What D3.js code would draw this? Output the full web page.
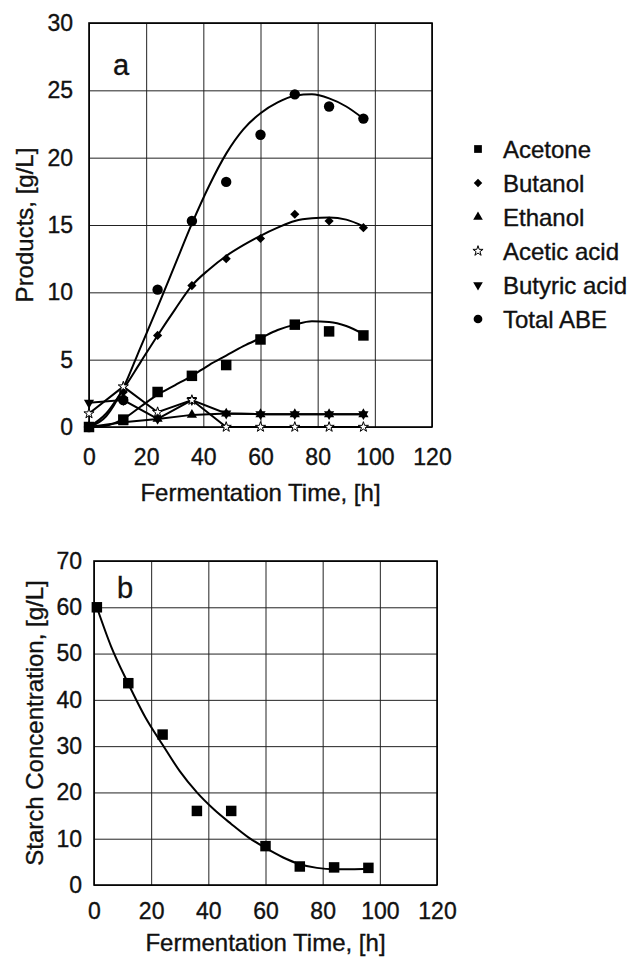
<!DOCTYPE html>
<html>
<head>
<meta charset="utf-8">
<style>
body{margin:0;background:#fff;}
svg{display:block;font-family:"Liberation Sans",Arial,sans-serif;}
svg text{stroke:#111;stroke-width:0.35px;}
.grid line{stroke:#222;stroke-width:1;}
.grid path{display:none;}
.grid text{font-size:23px;fill:#111;}
</style>
</head>
<body>
<svg id="chart" width="633" height="957"></svg>
<script src="https://cdn.jsdelivr.net/npm/d3@7"></script>
<script>
// panel a: measured products
const hours = [0, 12, 24, 36, 48, 60, 72, 84, 96];
const acetone = [0, 0.55, 2.6, 3.8, 4.6, 6.5, 7.6, 7.1, 6.8];
const butanol = [0, 2.6, 6.8, 10.5, 12.5, 14.0, 15.8, 15.3, 14.8];
const ethanol = [0, 0.35, 0.6, 0.9, 1.0, 0.95, 0.95, 0.95, 0.95];
const aceticAcid = [1.0, 3.0, 1.1, 2.0, 0, 0, 0, 0, 0];
const butyricAcid = [1.8, 2.0, 0.6, 2.0, 1.0, 0.95, 0.95, 0.95, 0.95];
const totalABE = [0, 2.0, 10.2, 15.3, 18.2, 21.7, 24.7, 23.8, 22.9];

// panel a: trend lines
const fitHours = [0, 6, 12, 18, 24, 30, 36, 42, 48, 54, 60, 66, 72, 78, 84, 90, 96];
const acetoneFit = [0, 0.1, 0.6, 1.5, 2.4, 3.1, 3.8, 4.6, 5.3, 6.0, 6.6, 7.2, 7.6, 7.85, 7.8, 7.5, 6.9];
const butanolFit = [0, 1.0, 2.8, 4.8, 6.8, 8.7, 10.5, 11.7, 12.7, 13.5, 14.2, 14.8, 15.3, 15.5, 15.55, 15.4, 14.9];
const abeFit = [0, 0.8, 2.9, 5.9, 8.9, 12.0, 15.1, 17.9, 20.3, 22.1, 23.3, 24.1, 24.6, 24.7, 24.4, 23.8, 22.9];

// panel b: starch
const starchHours = [1, 12, 24, 36, 48, 60, 72, 84, 96];
const starch = [60, 43.6, 32.5, 16, 16, 8.4, 4, 3.8, 3.7];
const starchFitHours = [1, 6, 12, 18, 24, 30, 36, 42, 48, 54, 60, 66, 72, 78, 84, 90, 96];
const starchFit = [60, 51.5, 43.5, 36.2, 30.3, 24.6, 20, 16.3, 13.2, 10.3, 8, 6, 4.5, 3.7, 3.4, 3.4, 3.5];

const xTicks = [0, 20, 40, 60, 80, 100, 120];
const yTicksA = [0, 5, 10, 15, 20, 25, 30];
const yTicksB = [0, 10, 20, 30, 40, 50, 60, 70];

const legendNames = ["Acetone", "Butanol", "Ethanol", "Acetic acid", "Butyric acid", "Total ABE"];

const svg = d3.select("#chart");

function panel(box, yMax, yTicks, opts){
  const x = d3.scaleLinear().domain([0, 120]).range([box.left, box.right]);
  const y = d3.scaleLinear().domain([0, yMax]).range([box.bottom, box.top]);
  const w = box.right - box.left, h = box.bottom - box.top;

  svg.append("g").attr("class", "grid")
    .attr("transform", `translate(0,${box.bottom})`)
    .call(d3.axisBottom(x).tickValues(xTicks).tickSize(-h).tickPadding(opts.xPad).tickFormat(d3.format("d")));
  svg.append("g").attr("class", "grid")
    .attr("transform", `translate(${box.left},0)`)
    .call(d3.axisLeft(y).tickValues(yTicks).tickSize(-w).tickPadding(opts.yPad).tickFormat(d3.format("d")));

  svg.append("rect")
    .attr("x", box.left).attr("y", box.top).attr("width", w).attr("height", h)
    .attr("fill", "none").attr("stroke", "#000").attr("stroke-width", 1.6);

  svg.append("text")
    .attr("x", (box.left + box.right) / 2).attr("y", opts.xTitleY)
    .attr("text-anchor", "middle").attr("font-size", 24).attr("fill", "#111")
    .text("Fermentation Time, [h]");
  svg.append("text")
    .attr("transform", `translate(${opts.yTitleX},${(box.top + box.bottom) / 2}) rotate(-90)`)
    .attr("text-anchor", "middle").attr("font-size", 24).attr("fill", "#111")
    .text(opts.yTitle);
  svg.append("text")
    .attr("x", box.left + opts.tag[0]).attr("y", box.top + opts.tag[1])
    .attr("font-size", 29).attr("fill", "#111")
    .text(opts.tagText);
  return {x, y};
}

function drawLine(s, xs, ys, curve){
  const line = d3.line().x(d => s.x(d[0])).y(d => s.y(d[1])).curve(curve);
  svg.append("path")
    .datum(xs.map((t, i) => [t, ys[i]]))
    .attr("d", line)
    .attr("fill", "none").attr("stroke", "#000").attr("stroke-width", 2);
}

const markerType = {
  square: [d3.symbolSquare, 110, 0],
  diamond: [d3.symbolSquare, 42, 45],
  triangle: [d3.symbolTriangle, 45, 0],
  star: [d3.symbolStar, 32, 0],
  down: [d3.symbolTriangle, 45, 180],
  circle: [d3.symbolCircle, 85, 0]
};

function drawMarkers(s, xs, ys, kind){
  const [type, size, rot] = markerType[kind];
  svg.append("g").selectAll("path")
    .data(xs.map((t, i) => [t, ys[i]]))
    .join("path")
    .attr("d", d3.symbol(type, size)())
    .attr("transform", d => `translate(${s.x(d[0])},${s.y(d[1])}) rotate(${rot})`)
    .attr("fill", kind === "star" ? "#fff" : "#000")
    .attr("stroke", "#000")
    .attr("stroke-width", kind === "star" ? 1 : 0);
}

// ---- panel a
const a = panel({left: 89, right: 432, top: 23, bottom: 427}, 30, yTicksA,
  {xPad: 22, yPad: 16, xTitleY: 501, yTitleX: 33, yTitle: "Products, [g/L]", tag: [24, 52], tagText: "a"});

drawLine(a, fitHours, acetoneFit, d3.curveMonotoneX);
drawLine(a, fitHours, butanolFit, d3.curveMonotoneX);
drawLine(a, fitHours, abeFit, d3.curveMonotoneX);
drawLine(a, hours, ethanol, d3.curveLinear);
drawLine(a, hours, aceticAcid, d3.curveLinear);
drawLine(a, hours, butyricAcid, d3.curveLinear);

drawMarkers(a, hours, acetone, "square");
drawMarkers(a, hours, butanol, "diamond");
drawMarkers(a, hours, ethanol, "triangle");
drawMarkers(a, hours, butyricAcid, "down");
drawMarkers(a, hours, totalABE, "circle");
drawMarkers(a, hours, aceticAcid, "star");

// legend
const legendKinds = ["square", "diamond", "triangle", "star", "down", "circle"];
const legendSize = [60, 36, 40, 32, 40, 60];
const leg = svg.append("g").selectAll("g")
  .data(legendNames)
  .join("g")
  .attr("transform", (d, i) => `translate(478,${149 + i * 34})`);
leg.append("path")
  .attr("d", (d, i) => d3.symbol(markerType[legendKinds[i]][0], legendSize[i])())
  .attr("transform", (d, i) => `rotate(${markerType[legendKinds[i]][2]})`)
  .attr("fill", (d, i) => legendKinds[i] === "star" ? "#fff" : "#000")
  .attr("stroke", "#000")
  .attr("stroke-width", (d, i) => legendKinds[i] === "star" ? 1 : 0);
leg.append("text")
  .attr("x", 25).attr("y", 8.5)
  .attr("font-size", 24).attr("fill", "#111")
  .text(d => d);

// ---- panel b
const b = panel({left: 94, right: 437, top: 561, bottom: 885}, 70, yTicksB,
  {xPad: 18, yPad: 12, xTitleY: 951, yTitleX: 43, yTitle: "Starch Concentration, [g/L]", tag: [23, 37], tagText: "b"});

drawLine(b, starchFitHours, starchFit, d3.curveMonotoneX);
drawMarkers(b, starchHours, starch, "square");
</script>
</body>
</html>
